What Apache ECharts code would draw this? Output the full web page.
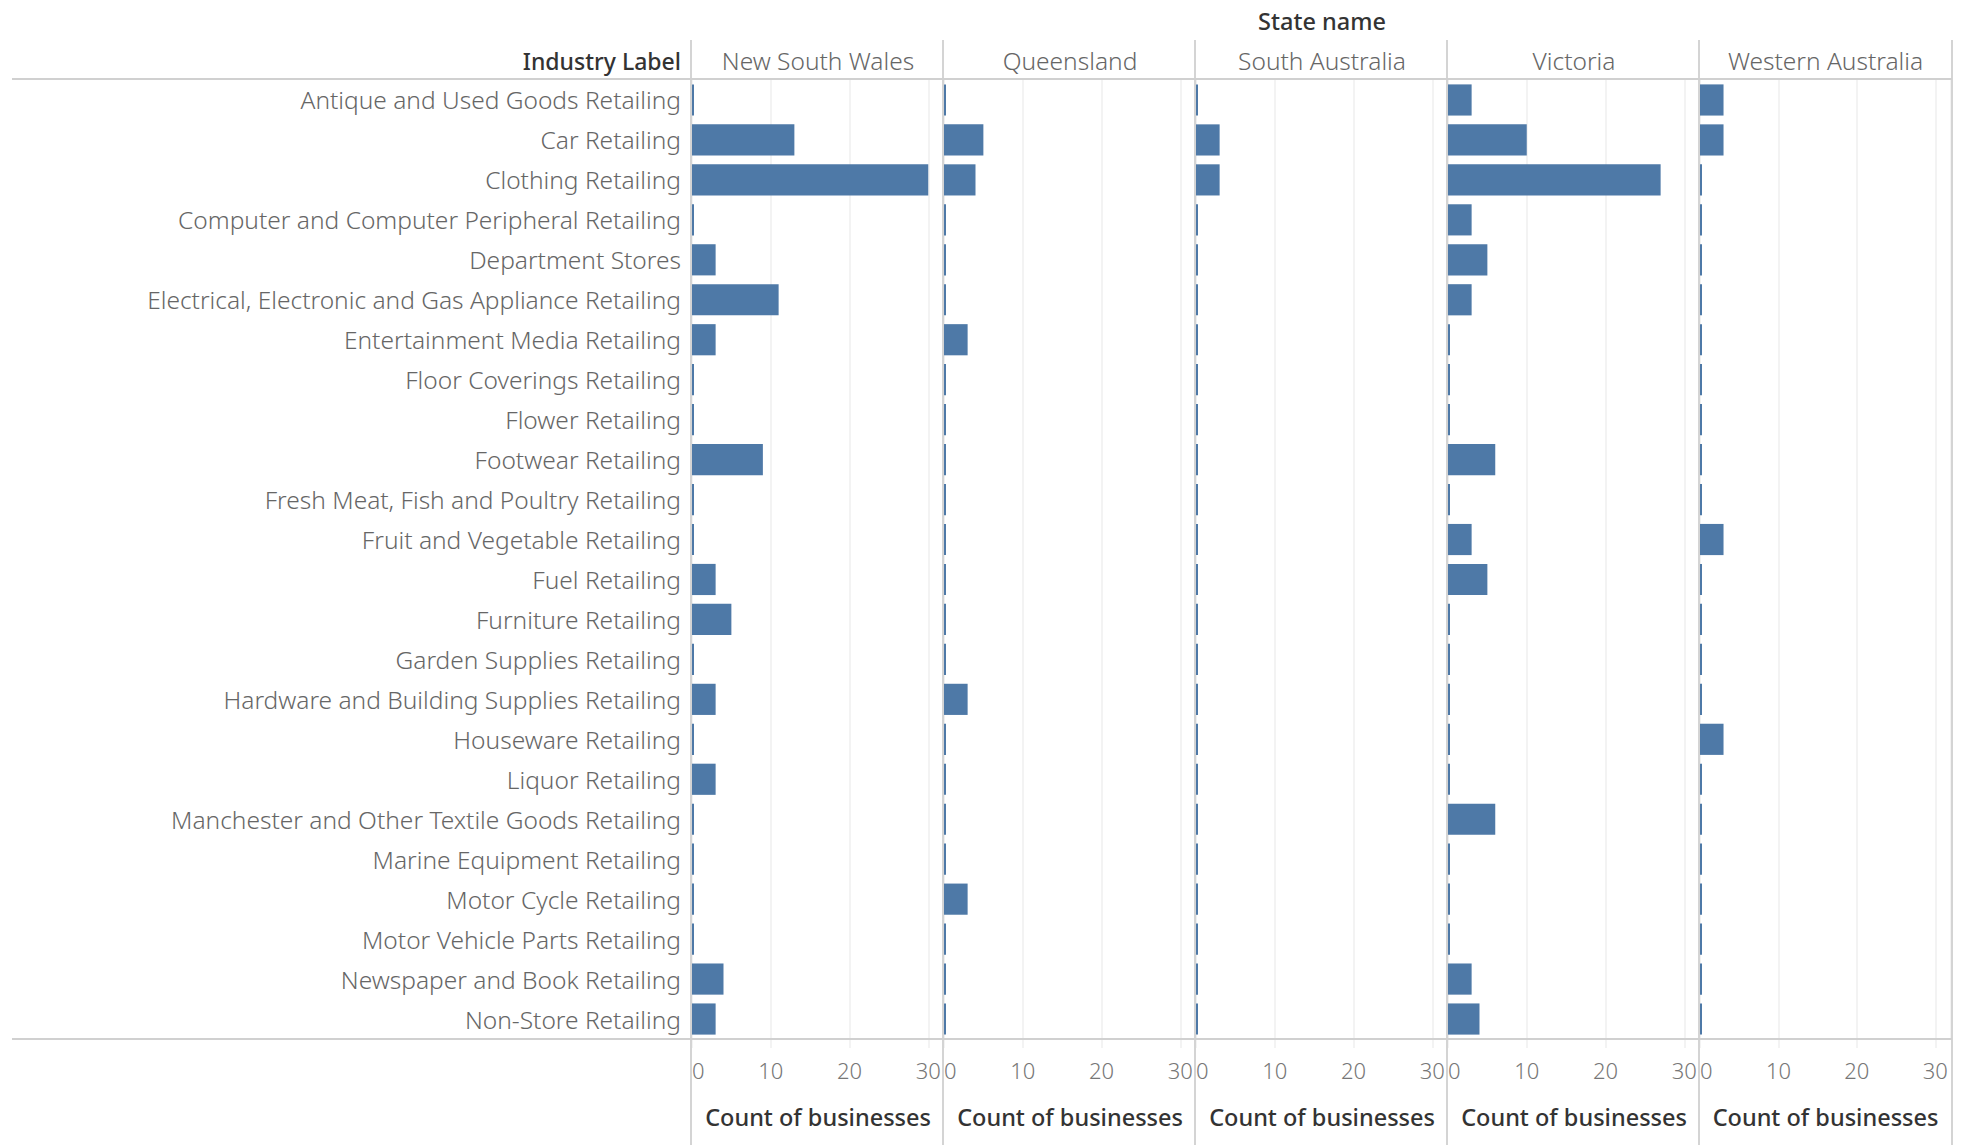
<!DOCTYPE html>
<html>
<head>
<meta charset="utf-8">
<script src="https://cdn.jsdelivr.net/npm/echarts@6/dist/echarts.min.js"></script>
<style>
html,body{margin:0;padding:0;background:#fff;}
#chart{width:1966px;height:1145px;}
</style>
</head>
<body>
<div id="chart"></div>
<script>
const categories = [
  'Antique and Used Goods Retailing',
  'Car Retailing',
  'Clothing Retailing',
  'Computer and Computer Peripheral Retailing',
  'Department Stores',
  'Electrical, Electronic and Gas Appliance Retailing',
  'Entertainment Media Retailing',
  'Floor Coverings Retailing',
  'Flower Retailing',
  'Footwear Retailing',
  'Fresh Meat, Fish and Poultry Retailing',
  'Fruit and Vegetable Retailing',
  'Fuel Retailing',
  'Furniture Retailing',
  'Garden Supplies Retailing',
  'Hardware and Building Supplies Retailing',
  'Houseware Retailing',
  'Liquor Retailing',
  'Manchester and Other Textile Goods Retailing',
  'Marine Equipment Retailing',
  'Motor Cycle Retailing',
  'Motor Vehicle Parts Retailing',
  'Newspaper and Book Retailing',
  'Non-Store Retailing'
];
const states = ['New South Wales', 'Queensland', 'South Australia', 'Victoria', 'Western Australia'];
const newSouthWales   = [0,13,30,0,3,11,3,0,0,9,0,0,3,5,0,3,0,3,0,0,0,0,4,3];
const queensland      = [0,5,4,0,0,0,3,0,0,0,0,0,0,0,0,3,0,0,0,0,3,0,0,0];
const southAustralia  = [0,3,3,0,0,0,0,0,0,0,0,0,0,0,0,0,0,0,0,0,0,0,0,0];
const victoria        = [3,10,27,3,5,3,0,0,0,6,0,3,5,0,0,0,0,0,6,0,0,0,3,4];
const westernAustralia= [3,3,0,0,0,0,0,0,0,0,0,3,0,0,0,0,3,0,0,0,0,0,0,0];
const xTicks = [0, 10, 20, 30];
const xAxisTitle = 'Count of businesses';
const rowHeader = 'Industry Label';
const colHeader = 'State name';

const seriesValues = [newSouthWales, queensland, southAustralia, victoria, westernAustralia];

// layout
const FONT = '"Noto Sans", "Open Sans", sans-serif';
const P0 = 692, PW = 252, TOP = 80, PLOT_BOTTOM = 1039, H = 1145, HEAD_TOP = 40;
const grids = [], xAxes = [], yAxes = [], series = [], graphics = [];

states.forEach((s, i) => {
  const left = P0 + i * PW;
  const w = (i === states.length - 1) ? (1951 - left) : PW;
  grids.push({ left: left, top: TOP, width: w, height: PLOT_BOTTOM - TOP });
  xAxes.push({
    type: 'value', gridIndex: i, min: 0, max: 32, interval: 10,
    axisLine: { show: false },
    axisTick: { show: true, length: 9, lineStyle: { color: '#efefef', width: 1.5 } },
    splitLine: { show: true, lineStyle: { color: '#efefef', width: 1.5 } },
    axisLabel: {
      show: true, margin: 20, fontSize: 22, color: '#777', fontFamily: FONT, fontWeight: 300,
      showMaxLabel: false, alignMinLabel: 'left',
      formatter: v => (xTicks.indexOf(v) >= 0 ? String(v) : '')
    },
    name: xAxisTitle, nameLocation: 'middle', nameGap: 66,
    nameTextStyle: { fontSize: 23.5, color: '#333', fontFamily: FONT, fontWeight: 500 }
  });
  yAxes.push({
    type: 'category', gridIndex: i, data: categories, inverse: true,
    axisLine: { show: false }, axisTick: { show: false }, splitLine: { show: false },
    axisLabel: {
      show: i === 0, margin: 11, fontSize: 24.5, color: '#666', fontFamily: FONT, fontWeight: 300
    }
  });
  series.push({
    type: 'bar', name: s, xAxisIndex: i, yAxisIndex: i,
    data: seriesValues[i], barCategoryGap: '22%', barMinHeight: 2,
    itemStyle: { color: '#4e79a7' }, silent: true
  });
  // state header
  graphics.push({
    type: 'text', silent: true, x: left + w / 2, y: 60,
    style: { text: s, fill: '#666', fontSize: 24.5, fontFamily: FONT, fontWeight: 300,
             align: 'center', verticalAlign: 'middle', textAlign: 'center', textVerticalAlign: 'middle' }
  });
  // separator
  graphics.push({
    type: 'line', silent: true, z: 100,
    shape: { x1: left - 1, y1: HEAD_TOP, x2: left - 1, y2: H },
    style: { stroke: '#d4d4d4', lineWidth: 2 }
  });
});
// right border
graphics.push({ type: 'line', silent: true, z: 100,
  shape: { x1: 1952, y1: HEAD_TOP, x2: 1952, y2: H }, style: { stroke: '#d4d4d4', lineWidth: 2 } });
// horizontal lines
graphics.push({ type: 'line', silent: true, z: 100,
  shape: { x1: 12, y1: 79, x2: 1952, y2: 79 }, style: { stroke: '#d0d0d0', lineWidth: 2 } });
graphics.push({ type: 'line', silent: true, z: 100,
  shape: { x1: 12, y1: PLOT_BOTTOM, x2: 1952, y2: PLOT_BOTTOM }, style: { stroke: '#d0d0d0', lineWidth: 2 } });
// headers
graphics.push({ type: 'text', silent: true, x: 1322, y: 21,
  style: { text: colHeader, fill: '#333', fontSize: 23.5, fontWeight: 500, fontFamily: FONT,
           align: 'center', verticalAlign: 'middle', textAlign: 'center', textVerticalAlign: 'middle' } });
graphics.push({ type: 'text', silent: true, x: 681, y: 61,
  style: { text: rowHeader, fill: '#333', fontSize: 23, fontWeight: 500, fontFamily: FONT,
           align: 'right', verticalAlign: 'middle', textAlign: 'right', textVerticalAlign: 'middle' } });

const chart = echarts.init(document.getElementById('chart'), null, { renderer: 'svg' });
chart.setOption({
  animation: false,
  backgroundColor: '#fff',
  grid: grids, xAxis: xAxes, yAxis: yAxes, series: series,
  graphic: { elements: graphics }
});
</script>
</body>
</html>
